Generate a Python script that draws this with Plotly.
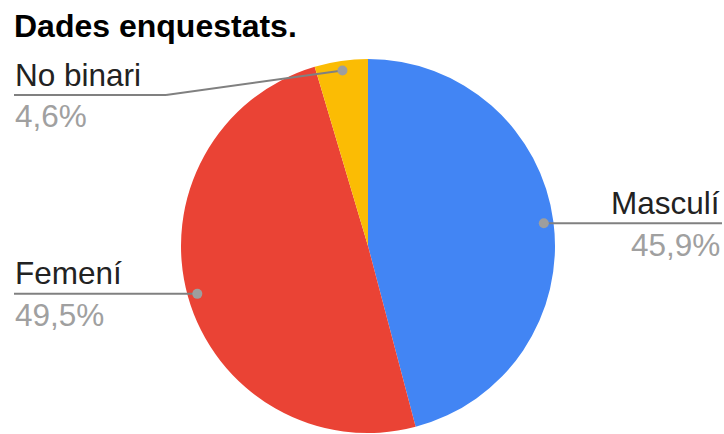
import math
import plotly.graph_objects as go

labels = ["Masculí", "Femení", "No binari"]
values = [45.9, 49.5, 4.6]
pct_text = ["45,9%", "49,5%", "4,6%"]
colors = ["#4285F4", "#EA4335", "#FBBC04"]

W, H = 724, 434
cx, cy, R = 368, 246, 187
FONT = "Liberation Sans, Arial, sans-serif"

fig = go.Figure(go.Pie(
    labels=labels, values=values, sort=False, direction="clockwise", rotation=0,
    marker=dict(colors=colors, line=dict(width=0)),
    textinfo="none", hoverinfo="skip", showlegend=False,
    domain=dict(x=[(cx - R) / W, (cx + R) / W], y=[(H - cy - R) / H, (H - cy + R) / H]),
))

def px(x):
    return x / W

def py(y):
    return 1 - y / H

# label layout: (side, label line y, elbow x or None)
layout_spec = [("right", None, None), ("left", None, None), ("left", 95, 166)]

total = sum(values)
cum = 0
shapes = []
annotations = []
for i, v in enumerate(values):
    mid = (cum + v / 2) / total * 2 * math.pi
    cum += v
    dr = R * 0.948
    dx = cx + dr * math.sin(mid)
    dy = cy - dr * math.cos(mid)
    side, ly, ex = layout_spec[i]
    if ly is None:
        ly = dy
    end_x = W - 2 if side == "right" else 14
    line_col = "#808080"
    if ex is not None:
        shapes.append(dict(type="line", xref="paper", yref="paper", x0=px(dx), y0=py(dy), x1=px(ex), y1=py(ly),
                           line=dict(color=line_col, width=2)))
        shapes.append(dict(type="line", xref="paper", yref="paper", x0=px(ex), y0=py(ly), x1=px(end_x), y1=py(ly),
                           line=dict(color=line_col, width=2)))
    else:
        shapes.append(dict(type="line", xref="paper", yref="paper", x0=px(dx), y0=py(ly), x1=px(end_x), y1=py(ly),
                           line=dict(color=line_col, width=2)))
    shapes.append(dict(type="circle", xref="paper", yref="paper", x0=px(dx - 5), x1=px(dx + 5),
                       y0=py(dy + 5), y1=py(dy - 5), fillcolor="#9E9E9E", line=dict(width=0)))
    anchor = "right" if side == "right" else "left"
    tx = end_x - 1 if side == "right" else end_x
    annotations.append(dict(x=px(tx), y=py(ly - 20.5), xref="paper", yref="paper", text=labels[i],
                            showarrow=False, xanchor=anchor, yanchor="middle", borderpad=0,
                            font=dict(family=FONT, size=31.5, color="#222222")))
    annotations.append(dict(x=px(tx), y=py(ly + 21.5), xref="paper", yref="paper", text=pct_text[i],
                            showarrow=False, xanchor=anchor, yanchor="middle", borderpad=0,
                            font=dict(family=FONT, size=31.5, color="#A0A0A0")))

annotations.append(dict(x=px(13), y=py(26), xref="paper", yref="paper", text="<b>Dades enquestats.</b>",
                        showarrow=False, xanchor="left", yanchor="middle", borderpad=0,
                        font=dict(family=FONT, size=32, color="#000000")))

fig.update_layout(width=W, height=H, margin=dict(l=0, r=0, t=0, b=0),
                  paper_bgcolor="white", plot_bgcolor="white",
                  shapes=shapes, annotations=annotations)
fig.write_html("out.html", config={"displayModeBar": False},
               post_script=["document.body.style.margin='0';document.body.style.overflow='hidden';"])
